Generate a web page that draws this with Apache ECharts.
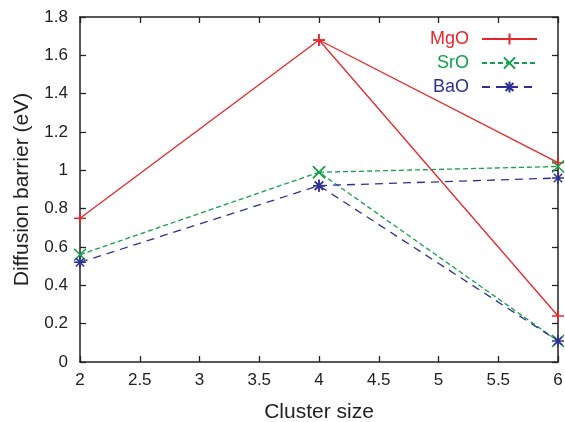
<!DOCTYPE html>
<html>
<head>
<meta charset="utf-8">
<script src="https://cdn.jsdelivr.net/npm/echarts@6/dist/echarts.min.js"></script>
<style>html,body{margin:0;padding:0;background:#fff}#c{width:565px;height:422px}</style>
</head>
<body>
<div id="c"></div>
<script>
const clusterSize = [2, 4, 6];
// main branch (2 -> 4 -> 6 lower) and second branch (4 -> 6 upper)
const mgoMain = [0.75, 1.68, 0.24];
const mgoBranch = [null, 1.68, 1.04];
const sroMain = [0.56, 0.99, 0.11];
const sroBranch = [null, 0.99, 1.02];
const baoMain = [0.52, 0.92, 0.11];
const baoBranch = [null, 0.92, 0.96];
const seriesNames = ['MgO', 'SrO', 'BaO'];

const colors = { MgO: '#e8262b', SrO: '#12a04a', BaO: '#2e3192' };
const symbols = {
  MgO: 'path://M0,5L10,5M5,0L5,10',
  SrO: 'path://M0,0L10,10M10,0L0,10',
  BaO: 'path://M0,5L10,5M5,0L5,10M1.5,1.5L8.5,8.5M8.5,1.5L1.5,8.5'
};
const dashes = { MgO: 'solid', SrO: [5, 3], BaO: [8, 6] };

function pts(arr) { return clusterSize.map((x, i) => [x, arr[i] === null ? '-' : arr[i]]); }

function mk(name, arr) {
  return {
    name: name, type: 'line', data: pts(arr), clip: false,
    symbol: symbols[name], symbolSize: 12,
    lineStyle: { color: colors[name], width: 1.3, type: dashes[name] },
    itemStyle: { color: 'rgba(0,0,0,0)', borderColor: colors[name], borderWidth: 1.5 },
    emphasis: { disabled: true }, animation: false
  };
}

const font = 'Liberation Sans, Arial, Helvetica, sans-serif';
const axCommon = {
  axisLine: { show: true, onZero: false, lineStyle: { color: '#222', width: 1.5 } },
  axisTick: { show: true, inside: true, length: 6, lineStyle: { color: '#222', width: 1.3 } },
  splitLine: { show: false }
};

const chart = echarts.init(document.getElementById('c'));
chart.setOption({
  backgroundColor: '#fff',
  animation: false,
  grid: { left: 80, right: 7, top: 17, bottom: 60, containLabel: false, outerBoundsMode: 'none' },
  legend: {
    orient: 'vertical', right: 22, top: 25, align: 'right',
    itemWidth: 55, itemHeight: 14, itemGap: 6,
    data: seriesNames.map(n => ({ name: n, textStyle: { color: colors[n] } })),
    textStyle: { fontFamily: font, fontSize: 18, padding: [0, 8, 0, 0] },
    selectedMode: false
  },
  xAxis: [
    Object.assign({}, axCommon, {
      type: 'value', min: 2, max: 6, interval: 0.5, position: 'bottom',
      name: 'Cluster size', nameLocation: 'middle', nameGap: 40,
      nameTextStyle: { fontFamily: font, fontSize: 21, color: '#222' },
      axisLabel: { fontFamily: font, fontSize: 17, color: '#222', margin: 10 }
    }),
    Object.assign({}, axCommon, {
      type: 'value', min: 2, max: 6, interval: 0.5, position: 'top',
      axisLabel: { show: false }
    })
  ],
  yAxis: [
    Object.assign({}, axCommon, {
      type: 'value', min: 0, max: 1.8, interval: 0.2, position: 'left',
      name: 'Diffusion barrier (eV)', nameLocation: 'middle', nameGap: 47,
      nameTextStyle: { fontFamily: font, fontSize: 21, color: '#222' },
      axisLabel: { fontFamily: font, fontSize: 17, color: '#222', margin: 12,
        formatter: v => String(+v.toFixed(1)) }
    }),
    Object.assign({}, axCommon, {
      type: 'value', min: 0, max: 1.8, interval: 0.2, position: 'right',
      axisLabel: { show: false }
    })
  ],
  series: [
    mk('MgO', mgoMain), mk('MgO', mgoBranch),
    mk('SrO', sroMain), mk('SrO', sroBranch),
    mk('BaO', baoMain), mk('BaO', baoBranch)
  ]
});
</script>
</body>
</html>
